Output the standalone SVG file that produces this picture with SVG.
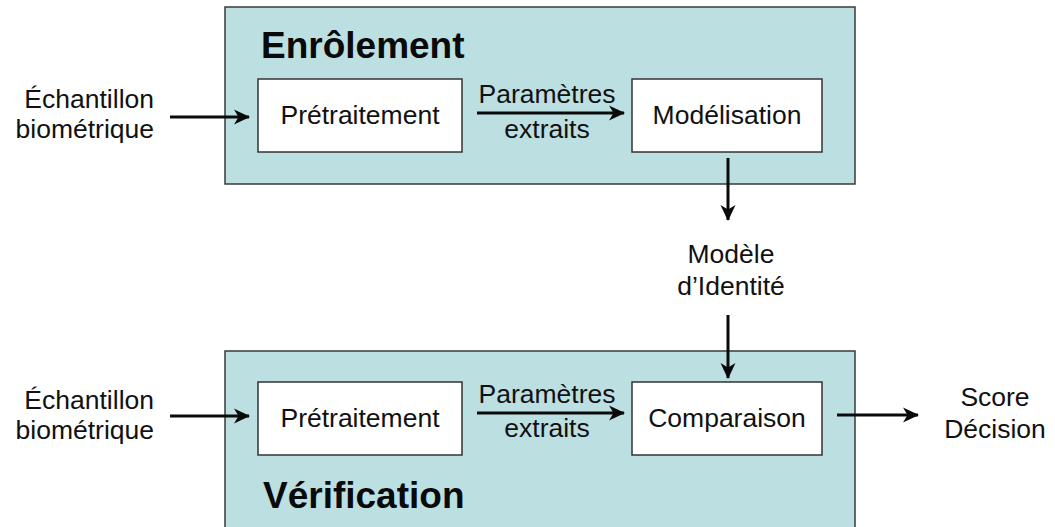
<svg xmlns="http://www.w3.org/2000/svg" width="1055" height="527" viewBox="0 0 1055 527">
<style>
.bg{fill:#ffffff}
.cont{fill:#bcdfe2;stroke:#3a3a3a;stroke-width:1.5}
.box{fill:#ffffff;stroke:#333333;stroke-width:1.5}
.t{font-family:"Liberation Sans",Arial,sans-serif;font-size:26.5px;fill:#111111}
.mid{text-anchor:middle}
.end{text-anchor:end}
.title{font-family:"Liberation Sans",Arial,sans-serif;font-size:37px;font-weight:bold;fill:#0a0a0a}
.conn{stroke:#0a0a0a;stroke-width:3;fill:none}
</style>
<defs>
<marker id="ah" markerUnits="userSpaceOnUse" markerWidth="18" markerHeight="18" refX="15" refY="9" orient="auto">
<path d="M0,1.5 L16,9 L0,16.5 L4.5,9 z" fill="#0a0a0a"/>
</marker>
</defs>
<rect class="bg" x="0" y="0" width="1055" height="527"/>
<g id="enrolement">
<rect class="cont" x="225" y="7" width="630" height="177"/>
<text class="title" x="261" y="58">Enrôlement</text>
</g>
<g id="verification">
<rect class="cont" x="225" y="351" width="630" height="190"/>
<text class="title" x="263" y="508">Vérification</text>
</g>
<g id="pretraitement1">
<rect class="box" x="258" y="79" width="204" height="73"/>
<text class="t mid" x="360" y="124">Prétraitement</text>
</g>
<g id="modelisation">
<rect class="box" x="632" y="79" width="190" height="73"/>
<text class="t mid" x="727" y="124">Modélisation</text>
</g>
<g id="pretraitement2">
<rect class="box" x="258" y="382" width="204" height="73"/>
<text class="t mid" x="360" y="427">Prétraitement</text>
</g>
<g id="comparaison">
<rect class="box" x="632" y="382" width="190" height="73"/>
<text class="t mid" x="727" y="427">Comparaison</text>
</g>
<g id="input1">
<text class="t end" x="154" y="108">Échantillon</text>
<text class="t end" x="154" y="138">biométrique</text>
</g>
<g id="input2">
<text class="t end" x="154" y="409">Échantillon</text>
<text class="t end" x="154" y="439">biométrique</text>
</g>
<g id="modele">
<text class="t mid" x="731" y="263">Modèle</text>
<text class="t mid" x="731" y="295">d’Identité</text>
</g>
<g id="output">
<text class="t mid" x="995" y="406">Score</text>
<text class="t mid" x="995" y="438">Décision</text>
</g>
<g id="labels">
<text class="t mid" x="547" y="103">Paramètres</text>
<text class="t mid" x="547" y="138">extraits</text>
<text class="t mid" x="547" y="403">Paramètres</text>
<text class="t mid" x="547" y="437">extraits</text>
</g>
<g id="connectors">
<line class="conn" x1="170" y1="117" x2="249" y2="117" marker-end="url(#ah)"/>
<line class="conn" x1="477" y1="113" x2="624" y2="113" marker-end="url(#ah)"/>
<line class="conn" x1="728" y1="158" x2="728" y2="220" marker-end="url(#ah)"/>
<line class="conn" x1="728" y1="315" x2="728" y2="378" marker-end="url(#ah)"/>
<line class="conn" x1="170" y1="416" x2="249" y2="416" marker-end="url(#ah)"/>
<line class="conn" x1="477" y1="413" x2="624" y2="413" marker-end="url(#ah)"/>
<line class="conn" x1="837" y1="415" x2="918" y2="415" marker-end="url(#ah)"/>
</g>
</svg>
